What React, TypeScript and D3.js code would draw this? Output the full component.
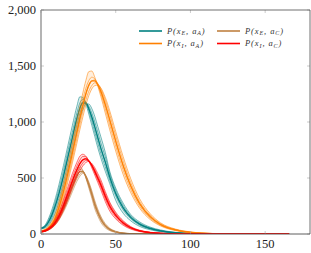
import React from "react";
import * as d3 from "d3";

// shared time grid (days)
const days = [0, 3, 6, 9, 12, 15, 18, 21, 24, 26, 28, 30, 32, 34, 36, 38, 40, 43, 46, 50, 55, 60, 66, 73, 80, 90, 100, 115, 135, 166];

// P(x_E, a_A) - ensemble runs
const xEaA = [
  [55, 85, 170, 290, 440, 610, 790, 970, 1140, 1225, 1220, 1160, 1070, 970, 870, 770, 680, 560, 450, 300, 185, 118, 68, 38, 20, 8, 3, 1, 0, 0],
  [52, 78, 150, 260, 400, 560, 740, 910, 1080, 1170, 1203, 1175, 1100, 1010, 910, 815, 720, 600, 480, 340, 215, 138, 80, 45, 25, 10, 4, 1, 0, 0],
  [50, 70, 130, 230, 360, 515, 690, 860, 1030, 1120, 1180, 1178, 1120, 1040, 950, 855, 760, 640, 510, 365, 235, 150, 88, 50, 28, 11, 4, 1, 0, 0],
  [48, 62, 110, 200, 320, 465, 635, 805, 975, 1075, 1145, 1168, 1140, 1080, 1000, 910, 815, 690, 540, 390, 255, 162, 97, 55, 31, 13, 5, 1, 0, 0],
  [45, 55, 95, 170, 280, 420, 580, 750, 920, 1030, 1110, 1158, 1160, 1120, 1050, 960, 870, 730, 560, 410, 275, 175, 108, 62, 36, 15, 6, 1, 0, 0],
];

// P(x_E, a_C)
const xEaC = [
  [20, 32, 60, 105, 175, 265, 370, 475, 570, 598, 570, 500, 410, 320, 225, 160, 105, 55, 30, 14, 5, 2, 0, 0, 0, 0, 0, 0, 0, 0],
  [19, 30, 55, 97, 162, 248, 350, 455, 548, 578, 565, 505, 425, 338, 245, 178, 122, 66, 36, 17, 6, 2, 0, 0, 0, 0, 0, 0, 0, 0],
  [18, 28, 50, 88, 148, 228, 325, 428, 522, 558, 563, 515, 440, 355, 265, 193, 135, 75, 41, 19, 7, 2, 1, 0, 0, 0, 0, 0, 0, 0],
  [17, 26, 46, 80, 135, 210, 302, 402, 495, 535, 550, 520, 455, 372, 282, 208, 148, 84, 46, 22, 8, 3, 1, 0, 0, 0, 0, 0, 0, 0],
  [16, 24, 42, 73, 124, 195, 282, 378, 470, 515, 540, 522, 465, 388, 298, 222, 160, 93, 52, 25, 9, 3, 1, 0, 0, 0, 0, 0, 0, 0],
];

// P(x_I, a_A)
const xIaA = [
  [30, 45, 85, 160, 290, 450, 630, 820, 1010, 1140, 1260, 1370, 1450, 1455, 1400, 1320, 1230, 1080, 930, 740, 530, 370, 230, 130, 72, 30, 12, 3, 0, 0],
  [28, 40, 75, 140, 260, 410, 580, 770, 960, 1080, 1200, 1300, 1370, 1400, 1385, 1330, 1255, 1120, 975, 785, 570, 400, 250, 142, 78, 33, 14, 3, 0, 0],
  [26, 36, 66, 125, 235, 375, 540, 720, 905, 1030, 1145, 1245, 1320, 1365, 1375, 1345, 1285, 1160, 1020, 830, 610, 430, 270, 155, 85, 36, 15, 4, 0, 0],
  [24, 33, 58, 110, 210, 340, 500, 675, 855, 980, 1095, 1195, 1275, 1325, 1350, 1340, 1300, 1195, 1065, 875, 650, 460, 290, 168, 92, 40, 17, 4, 1, 0],
  [22, 30, 52, 98, 190, 310, 465, 635, 810, 930, 1045, 1150, 1235, 1295, 1325, 1330, 1305, 1220, 1100, 915, 690, 495, 315, 182, 100, 44, 19, 5, 1, 0],
];

// P(x_I, a_C)
const xIaC = [
  [22, 35, 65, 115, 195, 300, 420, 540, 640, 695, 712, 695, 650, 590, 525, 460, 395, 290, 205, 135, 78, 44, 22, 10, 5, 2, 1, 0, 0, 0],
  [21, 32, 58, 102, 175, 275, 390, 505, 605, 660, 692, 690, 655, 605, 545, 482, 420, 315, 230, 152, 88, 50, 25, 11, 5, 2, 1, 0, 0, 0],
  [20, 29, 52, 92, 158, 250, 360, 470, 570, 625, 662, 675, 655, 615, 560, 500, 440, 340, 252, 170, 100, 57, 28, 13, 6, 2, 1, 0, 0, 0],
  [19, 27, 47, 83, 143, 228, 332, 440, 540, 595, 635, 658, 650, 620, 575, 520, 462, 360, 270, 183, 110, 62, 31, 14, 7, 3, 1, 0, 0, 0],
  [18, 25, 43, 75, 130, 210, 308, 412, 510, 565, 608, 638, 648, 630, 592, 540, 485, 380, 285, 195, 118, 67, 34, 16, 8, 3, 1, 0, 0, 0],
];

const xTicks = [0, 50, 100, 150];
const yTicks = [0, 500, 1000, 1500, 2000];

const series = [
  { sub1: "E", sub2: "A", runs: xEaA, color: "#008080" },
  { sub1: "E", sub2: "C", runs: xEaC, color: "#bf8040" },
  { sub1: "I", sub2: "A", runs: xIaA, color: "#ff8000" },
  { sub1: "I", sub2: "C", runs: xIaC, color: "#ff0000" },
];

const W = 311;
const H = 253;
const left = 41, right = 310, top = 10, bottom = 234;
const FONT = "Liberation Serif";

export default function App() {
  const x = d3.scaleLinear().domain([0, 180]).range([left, right]);
  const y = d3.scaleLinear().domain([0, 2000]).range([bottom, top]);

  const line = d3
    .line<number>()
    .x((_, i) => x(days[i]))
    .y((d) => y(d))
    .curve(d3.curveMonotoneX);

  const band = d3
    .area<number>()
    .x((_, i) => x(days[i]))
    .curve(d3.curveMonotoneX);

  const fmt = d3.format(",");

  return (
    <svg width={W} height={H} style={{ position: "absolute", left: 0, top: 0 }}>
      <rect width={W} height={H} fill="#fff" />
      <defs>
        <clipPath id="plot">
          <rect x={left} y={top} width={right - left} height={bottom - top} />
        </clipPath>
      </defs>

      <g clipPath="url(#plot)">
        {series.map((s, k) => {
          const lo = days.map((_, i) => d3.min(s.runs, (r) => r[i]) as number);
          const hi = days.map((_, i) => d3.max(s.runs, (r) => r[i]) as number);
          const mean = days.map((_, i) => d3.mean(s.runs, (r) => r[i]) as number);
          const area = band.y0((_, i) => y(lo[i])).y1((d) => y(d));
          return (
            <g key={k}>
              <path d={area(hi) || ""} fill={s.color} fillOpacity={0.13} />
              {s.runs.map((r, j) => (
                <path key={j} d={line(r) || ""} fill="none" stroke={s.color} strokeWidth={0.6} strokeOpacity={0.9} />
              ))}
              <path d={line(mean) || ""} fill="none" stroke={s.color} strokeWidth={1.3} />
            </g>
          );
        })}
      </g>

      {/* ticks */}
      {xTicks.map((t) => (
        <g key={"x" + t} stroke="#aaa" strokeWidth={0.6}>
          <line x1={x(t)} x2={x(t)} y1={bottom} y2={bottom - 3} />
          <line x1={x(t)} x2={x(t)} y1={top} y2={top + 3} />
        </g>
      ))}
      {yTicks.map((t) => (
        <g key={"y" + t} stroke="#aaa" strokeWidth={0.6}>
          <line x1={left} x2={left + 3} y1={y(t)} y2={y(t)} />
          <line x1={right} x2={right - 3} y1={y(t)} y2={y(t)} />
        </g>
      ))}

      {/* frame */}
      <line x1={left} x2={right} y1={top} y2={top} stroke="#4d4d4d" strokeWidth={0.8} />
      <line x1={right} x2={right} y1={top} y2={bottom} stroke="#4d4d4d" strokeWidth={0.8} />
      <line x1={left} x2={right} y1={bottom} y2={bottom} stroke="#4d4d4d" strokeWidth={0.9} />
      <line x1={left} x2={left} y1={top} y2={bottom} stroke="#8c8c8c" strokeWidth={1.3} />

      {/* tick labels */}
      {xTicks.map((t) => (
        <text key={"xl" + t} x={x(t)} y={248} textAnchor="middle" fontFamily={FONT} fontSize={12.5} fill="#222">
          {t}
        </text>
      ))}
      {yTicks.map((t) => (
        <text key={"yl" + t} x={36} y={y(t) + 4} textAnchor="end" fontFamily={FONT} fontSize={12.5} fill="#222">
          {fmt(t)}
        </text>
      ))}

      {/* legend */}
      {series.map((s, k) => {
        const col = k % 2;
        const row = Math.floor(k / 2);
        const lx = 139 + col * 78;
        const ly = 31 + row * 12.5;
        return (
          <g key={"lg" + k}>
            <line x1={lx} x2={lx + 23} y1={ly} y2={ly} stroke={s.color} strokeWidth={1.6} />
            <text x={lx + 28} y={ly + 2.5} fontFamily={FONT} fontSize={8.5} fill="#333" fontStyle="italic" letterSpacing={0.9}>
              P(x
              <tspan fontSize={6} dy={1.8}>{s.sub1}</tspan>
              <tspan dy={-1.8}>, a</tspan>
              <tspan fontSize={6} dy={1.8}>{s.sub2}</tspan>
              <tspan dy={-1.8}>)</tspan>
            </text>
          </g>
        );
      })}
    </svg>
  );
}
